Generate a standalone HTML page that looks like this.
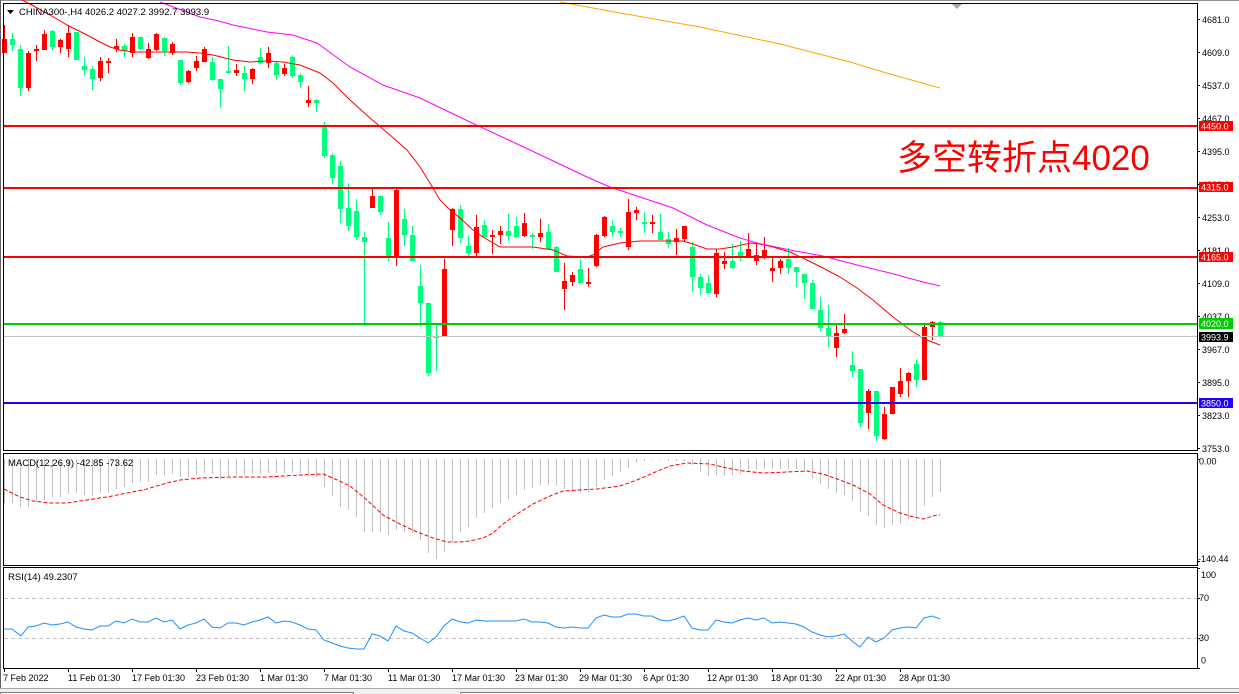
<!DOCTYPE html>
<html><head><meta charset="utf-8"><style>
html,body{margin:0;padding:0;background:#fff;overflow:hidden;width:1239px;height:694px}
svg{display:block}
text{font-family:"Liberation Sans","Noto Sans CJK SC",sans-serif}
</style></head><body>
<svg width="1239" height="694" viewBox="0 0 1239 694" xmlns="http://www.w3.org/2000/svg">
<rect x="0" y="0" width="1239" height="694" fill="#fff"/>
<!-- window frame -->
<rect x="0" y="0" width="1239" height="1" fill="#909090" shape-rendering="crispEdges"/>
<rect x="0" y="0" width="1" height="688" fill="#606060" shape-rendering="crispEdges"/>
<rect x="0" y="688" width="1239" height="6" fill="#f0f0f0"/>
<rect x="0" y="688" width="1239" height="1" fill="#a8a8a8" shape-rendering="crispEdges"/>
<rect x="0.5" y="692.5" width="353" height="6" fill="#fff" stroke="#808080" shape-rendering="crispEdges"/>
<rect x="460.5" y="692.5" width="800" height="6" fill="#fff" stroke="#808080" shape-rendering="crispEdges"/>

<g shape-rendering="crispEdges">
<!-- price pane candles -->
<path fill="#ff0000" d="M4 25h1V53h-1zM2 39h5V53h-5zM28 51h1V91h-1zM26 53h5V88h-5zM36 45h1V61h-1zM34 49h5V51h-5zM44 30h1V50h-1zM42 34h5V50h-5zM60 39h1V53h-1zM58 40h5V47h-5zM68 26h1V57h-1zM66 33h5V49h-5zM100 57h1V81h-1zM98 61h5V78h-5zM108 58h1V73h-1zM106 61h5V63h-5zM116 39h1V52h-1zM114 46h5V49h-5zM132 33h1V57h-1zM130 37h5V53h-5zM148 43h1V59h-1zM146 49h5V58h-5zM156 33h1V51h-1zM154 34h5V50h-5zM172 42h1V55h-1zM170 44h5V53h-5zM188 70h1V83h-1zM186 71h5V82h-5zM196 56h1V71h-1zM194 61h5V68h-5zM204 47h1V62h-1zM202 49h5V62h-5zM236 64h1V76h-1zM234 70h5V73h-5zM252 68h1V84h-1zM250 69h5V79h-5zM268 47h1V68h-1zM266 53h5V63h-5zM284 64h1V76h-1zM282 68h5V74h-5zM308 86h1V107h-1zM306 100h5V103h-5zM372 189h1V208h-1zM370 196h5V208h-5zM396 188h1V266h-1zM394 190h5V257h-5zM444 259h1V337h-1zM442 269h5V337h-5zM452 208h1V246h-1zM450 209h5V230h-5zM476 215h1V257h-1zM474 227h5V253h-5zM492 230h1V254h-1zM490 235h5V237h-5zM500 226h1V244h-1zM498 231h5V235h-5zM524 213h1V237h-1zM522 223h5V236h-5zM540 219h1V242h-1zM538 233h5V237h-5zM564 263h1V310h-1zM562 281h5V289h-5zM572 272h1V286h-1zM570 275h5V282h-5zM588 268h1V287h-1zM586 282h5V284h-5zM596 234h1V267h-1zM594 235h5V266h-5zM604 216h1V237h-1zM602 217h5V236h-5zM628 199h1V250h-1zM626 212h5V247h-5zM636 207h1V220h-1zM634 210h5V213h-5zM652 215h1V233h-1zM650 222h5V224h-5zM676 229h1V255h-1zM674 238h5V242h-5zM684 226h1V242h-1zM682 226h5V239h-5zM716 249h1V297h-1zM714 253h5V294h-5zM724 252h1V269h-1zM722 261h5V264h-5zM748 233h1V257h-1zM746 249h5V257h-5zM756 244h1V265h-1zM754 255h5V261h-5zM764 237h1V259h-1zM762 250h5V256h-5zM772 257h1V282h-1zM770 268h5V271h-5zM780 259h1V274h-1zM778 261h5V268h-5zM836 325h1V357h-1zM834 333h5V348h-5zM844 314h1V334h-1zM842 329h5V333h-5zM868 389h1V429h-1zM866 391h5V413h-5zM884 407h1V440h-1zM882 414h5V439h-5zM892 387h1V414h-1zM890 387h5V414h-5zM900 368h1V397h-1zM898 381h5V394h-5zM908 372h1V397h-1zM906 373h5V381h-5zM924 325h1V380h-1zM922 327h5V380h-5zM932 321h1V340h-1zM930 322h5V327h-5z"/>
<path fill="#00ff7f" d="M12 33h1V51h-1zM10 39h5V45h-5zM20 45h1V96h-1zM18 49h5V88h-5zM52 30h1V50h-1zM50 31h5V47h-5zM76 32h1V60h-1zM74 32h5V60h-5zM84 57h1V76h-1zM82 66h5V70h-5zM92 66h1V90h-1zM90 69h5V79h-5zM124 44h1V57h-1zM122 46h5V51h-5zM140 37h1V50h-1zM138 37h5V49h-5zM164 37h1V56h-1zM162 38h5V51h-5zM180 60h1V85h-1zM178 60h5V83h-5zM212 57h1V81h-1zM210 62h5V80h-5zM220 79h1V108h-1zM218 79h5V89h-5zM228 46h1V72h-1zM226 71h5V73h-5zM244 66h1V91h-1zM242 73h5V79h-5zM260 48h1V64h-1zM258 57h5V63h-5zM276 61h1V80h-1zM274 63h5V75h-5zM292 55h1V78h-1zM290 57h5V76h-5zM300 73h1V88h-1zM298 75h5V82h-5zM316 99h1V112h-1zM314 100h5V103h-5zM324 122h1V158h-1zM322 127h5V156h-5zM332 153h1V184h-1zM330 155h5V178h-5zM340 161h1V223h-1zM338 166h5V209h-5zM348 183h1V231h-1zM346 208h5V226h-5zM356 199h1V240h-1zM354 211h5V237h-5zM364 232h1V323h-1zM362 237h5V242h-5zM380 196h1V215h-1zM378 196h5V212h-5zM388 222h1V261h-1zM386 238h5V256h-5zM404 209h1V246h-1zM402 219h5V235h-5zM412 226h1V261h-1zM410 235h5V261h-5zM420 265h1V326h-1zM418 286h5V303h-5zM428 303h1V376h-1zM426 303h5V373h-5zM436 326h1V371h-1zM434 336h5V338h-5zM460 205h1V243h-1zM458 209h5V238h-5zM468 236h1V256h-1zM466 246h5V253h-5zM484 220h1V237h-1zM482 225h5V237h-5zM508 214h1V241h-1zM506 231h5V236h-5zM516 217h1V238h-1zM514 226h5V237h-5zM532 233h1V249h-1zM530 235h5V237h-5zM548 224h1V249h-1zM546 232h5V249h-5zM556 246h1V272h-1zM554 247h5V272h-5zM580 259h1V283h-1zM578 269h5V283h-5zM612 220h1V237h-1zM610 226h5V232h-5zM620 228h1V237h-1zM618 231h5V233h-5zM644 212h1V233h-1zM642 222h5V224h-5zM660 214h1V240h-1zM658 232h5V240h-5zM668 232h1V248h-1zM666 239h5V244h-5zM692 242h1V292h-1zM690 247h5V277h-5zM700 274h1V295h-1zM698 277h5V288h-5zM708 275h1V293h-1zM706 283h5V293h-5zM732 244h1V269h-1zM730 261h5V268h-5zM740 241h1V261h-1zM738 252h5V257h-5zM788 248h1V274h-1zM786 259h5V268h-5zM796 267h1V287h-1zM794 267h5V272h-5zM804 274h1V299h-1zM802 274h5V283h-5zM812 280h1V309h-1zM810 283h5V309h-5zM820 297h1V331h-1zM818 310h5V328h-5zM828 305h1V347h-1zM826 328h5V336h-5zM852 351h1V377h-1zM850 365h5V371h-5zM860 369h1V427h-1zM858 369h5V423h-5zM876 391h1V441h-1zM874 391h5V436h-5zM916 360h1V387h-1zM914 364h5V380h-5zM940 321h1V338h-1zM938 322h5V337h-5z"/>
</g>

<!-- moving averages -->
<polyline fill="none" stroke="#ff0000" stroke-width="1" points="22,0 30,4 50,15 67,25 85,34 100,42 110,47 120,50 133,52 160,52 187,52 200,53 213,55 233,60 250,62 267,61 283,62 300,65 320,73 333,83 350,100 370,118 390,135 407,150 420,167 430,183 440,200 448,208 460,218 473,230 483,237 500,247 520,247 533,247 553,250 567,256 587,257 593,255 603,247 620,243 640,241 683,241 693,244 707,249 720,249 733,247 750,243 760,244 773,247 790,252 807,260 823,268 840,277 857,288 873,300 893,317 913,332 927,340 940,345"/>
<polyline fill="none" stroke="#ff00ff" stroke-width="1" points="160,2 200,17 219,21 233,25 267,32 293,35 317,43 350,67 383,85 420,98 470,122 530,150 587,177 610,187 640,197 673,208 707,225 740,238 757,243 790,250 823,256 857,265 890,273 923,282 940,286"/>
<polyline fill="none" stroke="#ffa500" stroke-width="1" points="560,2 620,13 700,27 780,44 850,62 890,74 940,88"/>

<!-- horizontal levels -->
<g shape-rendering="crispEdges">
<rect x="4" y="125" width="1193" height="2" fill="#ff0000"/>
<rect x="4" y="187" width="1193" height="2" fill="#ff0000"/>
<rect x="4" y="256" width="1193" height="2" fill="#ff0000"/>
<rect x="4" y="323" width="1193" height="2" fill="#00cc00"/>
<rect x="4" y="336" width="1193" height="1" fill="#c0c0c0"/>
<rect x="4" y="402" width="1193" height="2" fill="#2200ff"/>
</g>

<!-- annotation -->
<text x="897" y="170" font-size="35" fill="#ff0000" style="font-family:'Liberation Sans','Noto Sans CJK SC',sans-serif">多空转折点4020</text>

<!-- header -->
<polygon points="7,10 14,10 10.5,14" fill="#000"/>
<text x="19" y="15" font-size="9.5" fill="#000">CHINA300-,H4  4026.2 4027.2 3992.7 3993.9</text>
<polygon points="952,4 962,4 957,9" fill="#a8a8a8"/>

<!-- pane borders -->
<g fill="none" stroke="#000" stroke-width="1" shape-rendering="crispEdges">
<rect x="3.5" y="3.5" width="1194" height="447"/>
<rect x="3.5" y="453.5" width="1194" height="112"/>
<rect x="3.5" y="567.5" width="1194" height="101"/>
</g>

<!-- price axis -->
<g fill="#000" font-size="9">
<g shape-rendering="crispEdges" stroke="#000">
<path d="M1197 19.5h3M1197 52.5h3M1197 85.5h3M1197 118.5h3M1197 151.5h3M1197 184.5h3M1197 217.5h3M1197 250.5h3M1197 283.5h3M1197 316.5h3M1197 349.5h3M1197 382.5h3M1197 415.5h3M1197 448.5h3"/>
</g>
<text x="1202" y="23">4681.0</text>
<text x="1202" y="56">4609.0</text>
<text x="1202" y="89">4537.0</text>
<text x="1202" y="122">4467.0</text>
<text x="1202" y="155">4395.0</text>
<text x="1202" y="188">4323.0</text>
<text x="1202" y="221">4253.0</text>
<text x="1202" y="254">4181.0</text>
<text x="1202" y="287">4109.0</text>
<text x="1202" y="320">4037.0</text>
<text x="1202" y="353">3967.0</text>
<text x="1202" y="386">3895.0</text>
<text x="1202" y="419">3823.0</text>
<text x="1202" y="452">3753.0</text>
</g>
<g shape-rendering="crispEdges">
<rect x="1199" y="121" width="34" height="10" fill="#ff0000"/>
<rect x="1199" y="182" width="34" height="10" fill="#ff0000"/>
<rect x="1199" y="252" width="34" height="10" fill="#ff0000"/>
<rect x="1199" y="318" width="34" height="11" fill="#00cc00"/>
<rect x="1199" y="332" width="34" height="10" fill="#000"/>
<rect x="1199" y="398" width="34" height="10" fill="#2200ff"/>
</g>
<g fill="#fff" font-size="9">
<text x="1201" y="129.5">4450.0</text>
<text x="1201" y="190.5">4315.0</text>
<text x="1201" y="260.5">4165.0</text>
<text x="1201" y="327">4020.0</text>
<text x="1201" y="340.5">3993.9</text>
<text x="1201" y="406.5">3850.0</text>
</g>

<!-- MACD -->
<path fill="none" stroke="#c0c0c0" stroke-width="1" shape-rendering="crispEdges" d="M4.5 459V503M12.5 459V503M20.5 459V507M28.5 459V507M36.5 459V502M44.5 459V500M52.5 459V497M60.5 459V497M68.5 459V494M76.5 459V493M84.5 459V495M92.5 459V496M100.5 459V493M108.5 459V493M116.5 459V489M124.5 459V487M132.5 459V483M140.5 459V482M148.5 459V482M156.5 459V475M164.5 459V475M172.5 459V474M180.5 459V477M188.5 459V477M196.5 459V475M204.5 459V473M212.5 459V474M220.5 459V479M228.5 459V477M236.5 459V475M244.5 459V475M252.5 459V474M260.5 459V474M268.5 459V473M276.5 459V473M284.5 459V473M292.5 459V473M300.5 459V473M308.5 459V474M316.5 459V477M324.5 459V487M332.5 459V496M340.5 459V507M348.5 459V510M356.5 459V517M364.5 459V532M372.5 459V532M380.5 459V532M388.5 459V535M396.5 459V530M404.5 459V532M412.5 459V533M420.5 459V540M428.5 459V553M436.5 459V559M444.5 459V552M452.5 459V542M460.5 459V532M468.5 459V527M476.5 459V518M484.5 459V513M492.5 459V508M500.5 459V503M508.5 459V499M516.5 459V495M524.5 459V490M532.5 459V488M540.5 459V485M548.5 459V485M556.5 459V486M564.5 459V489M572.5 459V490M580.5 459V493M588.5 459V493M596.5 459V487M604.5 459V480M612.5 459V476M620.5 459V472M628.5 459V468M636.5 459V463M644.5 459V461M652.5 459V460M660.5 459V460M668.5 459V461M676.5 459V461M684.5 459V461M692.5 459V465M700.5 459V472M708.5 459V476M716.5 459V475M724.5 459V475M732.5 459V475M740.5 459V474M748.5 459V471M756.5 459V470M764.5 459V469M772.5 459V469M780.5 459V469M788.5 459V469M796.5 459V469M804.5 459V472M812.5 459V478M820.5 459V484M828.5 459V489M836.5 459V493M844.5 459V495M852.5 459V501M860.5 459V512M868.5 459V516M876.5 459V525M884.5 459V528M892.5 459V525M900.5 459V523M908.5 459V519M916.5 459V519M924.5 459V506M932.5 459V497M940.5 459V492"/>
<polyline fill="none" stroke="#ff0000" stroke-width="1" stroke-dasharray="4,2" points="4,489 20,497 33,501 50,503 67,503 87,500 107,497 127,493 147,489 160,485 167,483 180,480 200,478 233,477 267,477 300,475 323,474 333,478 350,486 367,500 383,515 400,524 417,532 433,538 447,542 460,542 470,541 483,538 493,533 503,524 517,514 533,504 550,496 563,491 580,490 597,489 620,486 637,480 653,473 670,466 687,463 710,464 727,468 743,471 763,473 787,472 807,471 823,474 837,479 853,485 870,494 883,505 900,513 910,516 923,519 937,515 940,515"/>
<text x="8" y="466" font-size="9.5" fill="#000">MACD(12,26,9) -42.85 -73.62</text>
<g fill="#000" font-size="9">
<path d="M1197 459.5h3M1197 561.5h3" stroke="#000" shape-rendering="crispEdges"/>
<text x="1199" y="464.5">0.00</text>
<text x="1198" y="562">-140.44</text>
</g>

<!-- RSI -->
<g stroke="#c0c0c0" stroke-width="1" stroke-dasharray="4,3" shape-rendering="crispEdges">
<line x1="4" y1="598.5" x2="1197" y2="598.5"/>
<line x1="4" y1="638.5" x2="1197" y2="638.5"/>
</g>
<polyline fill="none" stroke="#1e90ff" stroke-width="1" points="4,629 12,629 21,636 28,627 36,626 44,623 52,625 60,624 68,622 76,627 84,629 92,630 100,626 108,626 116,621 124,623 132,619 140,622 148,622 156,618 164,622 172,620 180,629 188,625 196,623 204,619 212,627 220,628 228,623 236,623 244,625 252,622 260,620 268,617 276,623 284,621 292,622 300,625 308,629 316,630 324,640 332,643 340,646 348,648 356,649 364,649 372,634 380,636 388,641 396,626 404,631 412,633 420,638 428,643 436,637 444,626 452,619 460,622 468,623 476,620 484,621 492,621 500,621 508,621 516,621 524,619 532,622 540,622 548,623 556,627 564,628 572,627 580,628 588,628 596,618 604,615 612,617 620,617 628,614 636,614 644,616 652,616 660,620 668,621 676,619 684,616 692,628 700,630 708,630 716,620 724,622 732,623 740,620 748,618 756,620 764,618 772,623 780,622 788,623 796,624 804,627 812,632 820,635 828,637 836,636 844,634 852,641 860,647 868,637 876,642 884,638 892,630 900,628 908,627 916,628 924,618 932,616 940,619"/>
<text x="8" y="580" font-size="9.5" fill="#000">RSI(14) 49.2307</text>
<g fill="#000" font-size="9">
<path d="M1197 568.5h3M1197 598.5h3M1197 638.5h3M1197 668.5h3" stroke="#000" shape-rendering="crispEdges"/>
<text x="1201" y="578">100</text>
<text x="1199" y="601">70</text>
<text x="1199" y="641">30</text>
<text x="1201" y="663.5">0</text>
</g>

<!-- time axis -->
<path d="M4.5 668V672M68.5 668V672M132.5 668V672M196.5 668V672M260.5 668V672M324.5 668V672M388.5 668V672M452.5 668V672M516.5 668V672M580.5 668V672M644.5 668V672M708.5 668V672M772.5 668V672M836.5 668V672M900.5 668V672" stroke="#000" shape-rendering="crispEdges"/>
<g fill="#000" font-size="9">
<text x="3" y="681">7 Feb 2022</text>
<text x="68" y="681">11 Feb 01:30</text>
<text x="132" y="681">17 Feb 01:30</text>
<text x="196" y="681">23 Feb 01:30</text>
<text x="260" y="681">1 Mar 01:30</text>
<text x="324" y="681">7 Mar 01:30</text>
<text x="388" y="681">11 Mar 01:30</text>
<text x="452" y="681">17 Mar 01:30</text>
<text x="515" y="681">23 Mar 01:30</text>
<text x="579" y="681">29 Mar 01:30</text>
<text x="643" y="681">6 Apr 01:30</text>
<text x="707" y="681">12 Apr 01:30</text>
<text x="771" y="681">18 Apr 01:30</text>
<text x="835" y="681">22 Apr 01:30</text>
<text x="899" y="681">28 Apr 01:30</text>
</g>
</svg>
</body></html>
